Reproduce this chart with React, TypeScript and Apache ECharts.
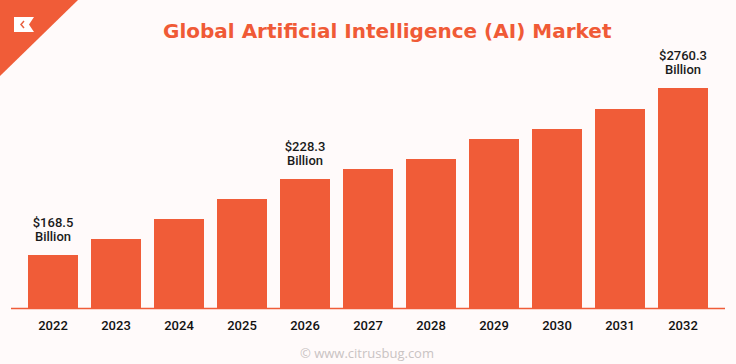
import React, { useEffect, useRef } from "react";
import * as echarts from "echarts";

const years = ["2022", "2023", "2024", "2025", "2026", "2027", "2028", "2029", "2030", "2031", "2032"];
// relative bar heights as drawn in the reference (illustrative, not to scale with the labels)
const barHeights = [53, 69, 89, 109, 129, 139, 149, 169, 179, 199, 220];
const valueLabels = ["$168.5\nBillion", "", "", "", "$228.3\nBillion", "", "", "", "", "", "$2760.3\nBillion"];
const titleText = "Global Artificial Intelligence (AI) Market";
const footerText = "© www.citrusbug.com";

const ORANGE = "#f05c38";

export default function App() {
  const ref = useRef<HTMLDivElement>(null);
  useEffect(() => {
    const chart = echarts.init(ref.current!, null, { renderer: "svg" });
    chart.setOption({
      animation: false,
      backgroundColor: "#fffafa",
      title: {
        text: titleText,
        left: 163,
        top: 21,
        padding: 0,
        textStyle: {
          fontFamily: "DejaVu Sans",
          fontWeight: "bold",
          fontSize: 20,
          color: "#f05a36",
        },
      },
      grid: { left: 21.5, right: 21.5, top: 68, bottom: 56 },
      xAxis: {
        type: "category",
        data: years,
        axisLine: { show: false },
        axisTick: { show: false },
        axisLabel: {
          margin: 11,
          fontFamily: "Roboto",
          fontWeight: 500,
          fontSize: 13,
          color: "#111111",
        },
      },
      yAxis: {
        type: "value",
        min: 0,
        max: 240,
        show: false,
        splitLine: { show: false },
      },
      series: [
        {
          type: "bar",
          data: barHeights,
          barWidth: 50,
          itemStyle: { color: ORANGE },
          label: {
            show: true,
            position: "top",
            distance: 11,
            formatter: (p: any) => valueLabels[p.dataIndex],
            fontFamily: "Roboto",
            fontWeight: 500,
            fontSize: 13,
            lineHeight: 14.5,
            color: "#1a1a1a",
          },
        },
      ],
      graphic: [
        {
          type: "line",
          shape: { x1: 11, y1: 308.5, x2: 725, y2: 308.5 },
          style: { stroke: ORANGE, lineWidth: 1.5 },
        },
        {
          type: "polygon",
          shape: { points: [[0, 0], [78, 0], [0, 76]] },
          style: { fill: ORANGE },
        },
        {
          type: "polygon",
          shape: { points: [[14, 17], [34, 17], [29, 24.5], [34, 32], [14, 32]] },
          style: { fill: "#ffffff" },
        },
        {
          type: "polyline",
          shape: { points: [[24, 21], [21, 24.5], [24, 28]] },
          style: { stroke: "#e8603f", lineWidth: 1.5, fill: "none" },
        },
        {
          type: "text",
          x: 367,
          y: 353,
          style: {
            text: footerText,
            fontFamily: "Open Sans",
            fontSize: 13,
            fill: "#c9c3c3",
            textAlign: "center",
            textVerticalAlign: "middle",
          },
        },
      ],
    });
    return () => chart.dispose();
  }, []);
  return <div ref={ref} style={{ position: "fixed", left: 0, top: 0, width: 736, height: 364 }} />;
}
